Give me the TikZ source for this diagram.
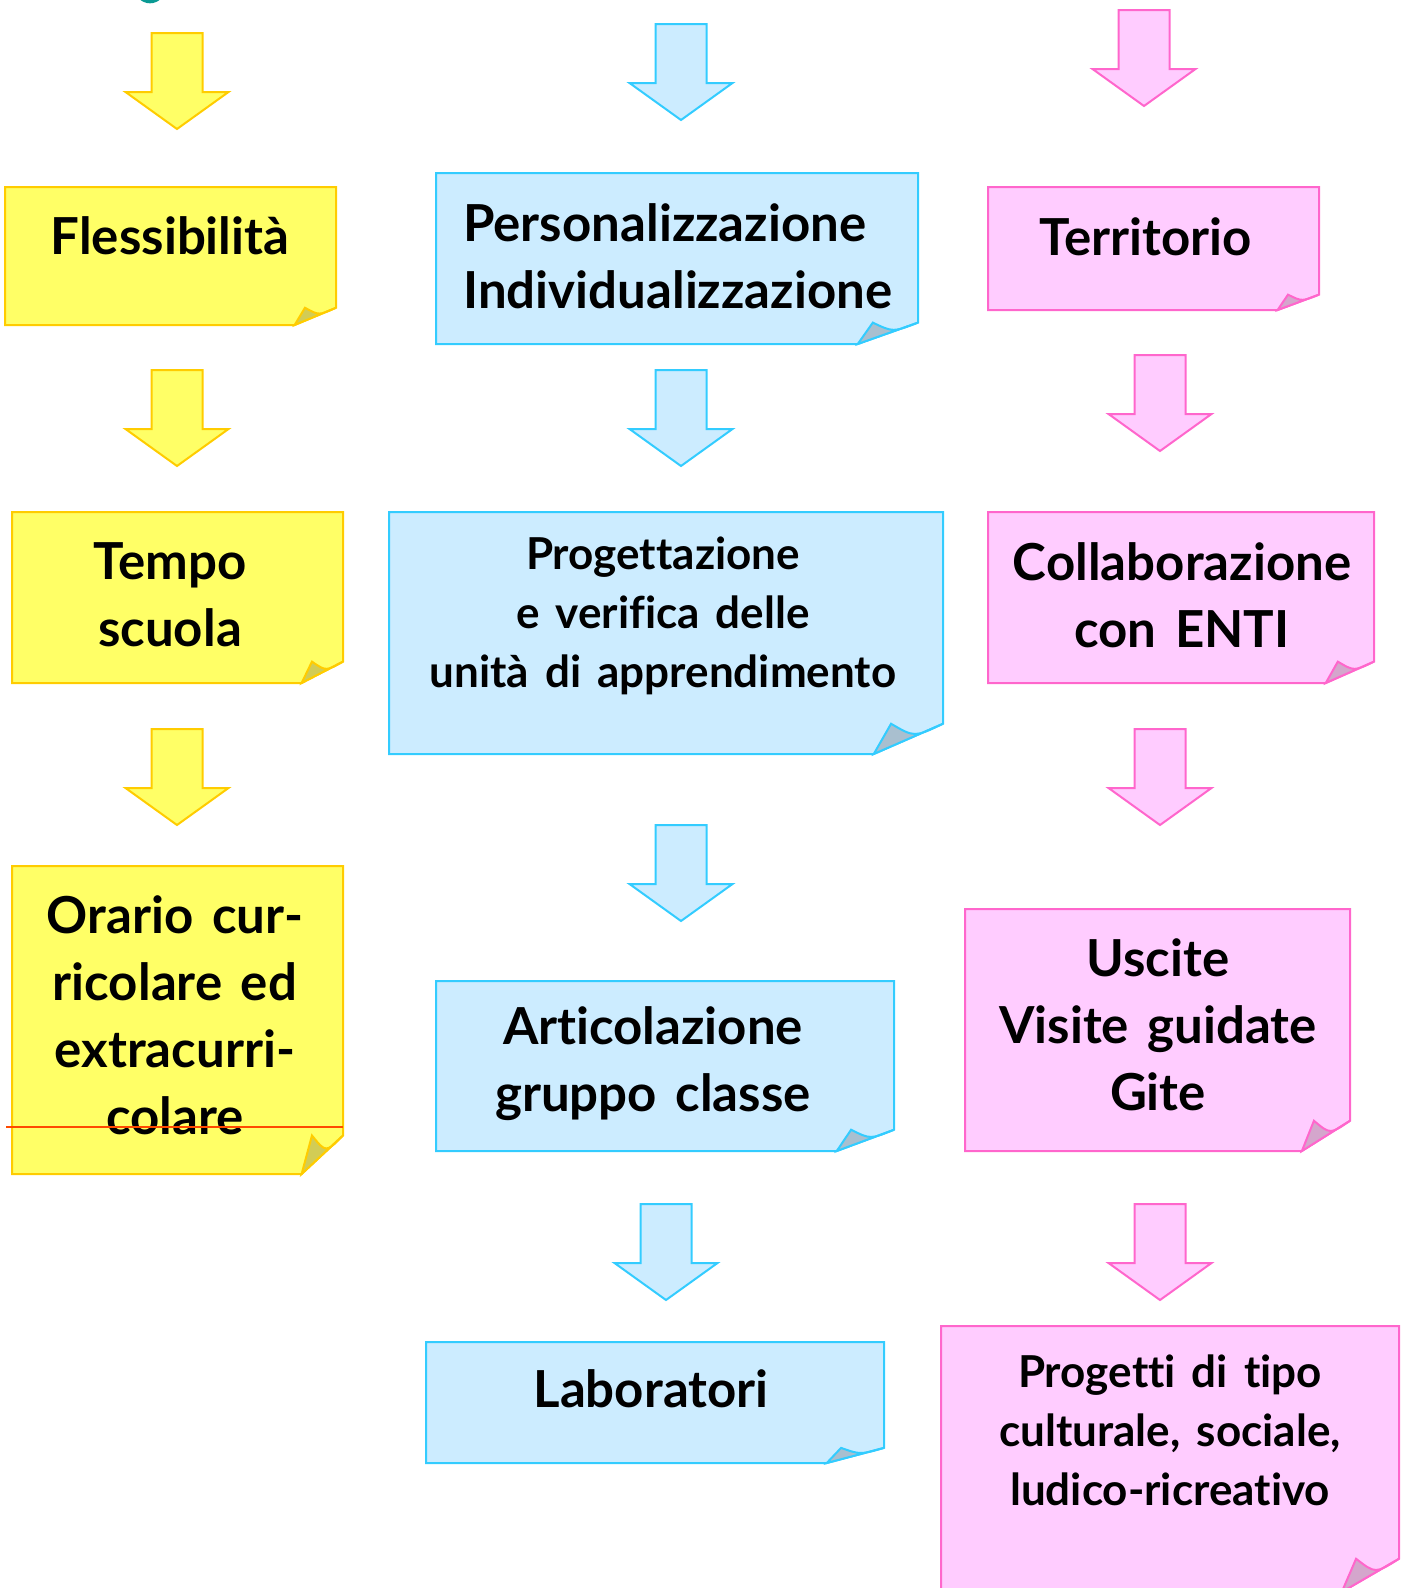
\documentclass[tikz,border=0pt]{standalone}
\usepackage{fontspec}
\setmainfont{Lato}[Ligatures={NoCommon,NoContextual}, WordSpace=1.5]
\usepackage{tikz}
\usetikzlibrary{calc}
\definecolor{yelfill}{HTML}{FFFF66}
\definecolor{yelline}{HTML}{FFCC00}
\definecolor{yelfold}{HTML}{D2CC55}
\definecolor{bluefill}{HTML}{CCECFF}
\definecolor{blueline}{HTML}{33CCFF}
\definecolor{bluefold}{HTML}{A9BFCF}
\definecolor{pinkfill}{HTML}{FFCCFF}
\definecolor{pinkline}{HTML}{FF66CC}
\definecolor{pinkfold}{HTML}{D4A6CC}
\definecolor{dotteal}{HTML}{0A9A94}
\definecolor{strike}{HTML}{FF4A00}

\tikzset{
  box/.style={draw=none, inner sep=0pt},
  big/.style={font=\fontsize{51}{67}\selectfont\bfseries, align=center},
  small/.style={font=\fontsize{44}{59}\selectfont\bfseries, align=center},
}

% block arrow pointing down: x, top y, colour prefix
\newcommand{\downblock}[3]{%
  \filldraw[fill=#3fill, draw=#3line]
    (#1-25.5,#2) -- (#1+25.5,#2) -- (#1+25.5,#2+59) -- (#1+51.5,#2+59)
    -- (#1,#2+96) -- (#1-51.5,#2+59) -- (#1-25.5,#2+59) -- cycle;
}
% note sheet with curled corner behind a box node
\newcommand{\notebg}[2]{%
  \coordinate (R) at ($(#1.south east)!0.125!(#1.north east)$);
  \coordinate (B) at ($(#1.south east)!0.125!(#1.south west)$);
  \coordinate (Q) at ($(B)!0.25!(#1.south east)$);
  \coordinate (C) at (Q |- R);
  \filldraw[fill=#2fill, draw=#2line] (#1.north west) -- (#1.north east)
    -- (R) -- (B) -- (#1.south west) -- cycle;
  \filldraw[fill=#2fold, draw=#2line] (B) -- (C)
    .. controls ($(C)!0.45!(#1.south east)$) .. (R) -- cycle;
}

\begin{document}
\begin{tikzpicture}[x=1pt, y=-1pt, line width=2pt, line join=miter]
  \useasboundingbox (0,0) rectangle (1407,1588);
  \fill[dotteal] (150,-12) circle (15.3);

  % boxes
  \node[box, minimum width=329pt, minimum height=136pt] (fless) at (170.5,256) {};
  \node[box, minimum width=329pt, minimum height=169pt] (tempo) at (177.5,597.5) {};
  \node[box, minimum width=329pt, minimum height=306pt] (orario) at (177.5,1020) {};
  \node[box, minimum width=480pt, minimum height=169pt] (perso) at (677,258.5) {};
  \node[box, minimum width=552pt, minimum height=240pt] (proget) at (666,633) {};
  \node[box, minimum width=456pt, minimum height=168pt] (artic) at (665,1066) {};
  \node[box, minimum width=456pt, minimum height=119pt] (labor) at (655,1402.5) {};
  \node[box, minimum width=329pt, minimum height=121pt] (terri) at (1153.5,248.5) {};
  \node[box, minimum width=384pt, minimum height=169pt] (colla) at (1181,597.5) {};
  \node[box, minimum width=383pt, minimum height=240pt] (uscite) at (1157.5,1030) {};
  \node[box, minimum width=456pt, minimum height=264pt] (progetti) at (1170,1459) {};

  \foreach \n/\c in {fless/yel, tempo/yel, orario/yel, perso/blue, proget/blue,
      artic/blue, labor/blue, terri/pink, colla/pink, uscite/pink, progetti/pink}
    {\notebg{\n}{\c}}

  % arrows
  \foreach \x/\y/\c in {177/33/yel, 177/370/yel, 177/729/yel,
      681/24/blue, 681/370/blue, 681/825/blue, 666/1204/blue,
      1144/10/pink, 1160/355/pink, 1160/729/pink, 1160/1204/pink}
    {\downblock{\x}{\y}{\c}}

  % texts
  \node[big] (flesst) at (170,236) {Flessibilità};
  \node[big, align=left, anchor=west] (persot) at (459,256) {Personalizzazione\\Individualizzazione};
  \node[big] (territ) at (1146,237) {Territorio};
  \node[big] (tempot) at (170,595) {Tempo\\scuola};
  \node[small] (progett) at (663,616) {Progettazione\\e verifica delle\\unità di apprendimento};
  \node[big] (collat) at (1182,595) {Collaborazione\\con ENTI};
  \node[big] (orariot) at (175,1015) {Orario cur-\\ricolare ed\\extracurri-\\colare};
  \node[big] (artict) at (653,1064) {Articolazione\\gruppo classe};
  \node[big] (uscitet) at (1158,1025) {Uscite\\Visite guidate\\Gite};
  \node[big] (labort) at (651,1389) {Laboratori};
  \node[small] (progettit) at (1170,1430) {Progetti di tipo\\culturale, sociale,\\ludico-ricreativo};

  \draw[strike] (6,1127) -- (343,1127);
\end{tikzpicture}
\end{document}
